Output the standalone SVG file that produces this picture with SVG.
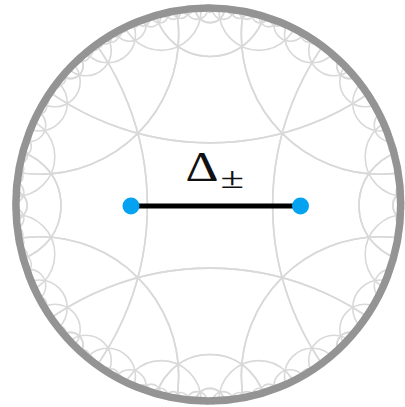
<svg xmlns="http://www.w3.org/2000/svg" xmlns:xlink="http://www.w3.org/1999/xlink" width="405" height="407" viewBox="0 0 405 407">
<style>
.t circle{fill:none;stroke:#d9d9d9;stroke-width:0.0082}
.lbl{font-family:"Liberation Serif","Times New Roman",serif;fill:#111}
.dot{fill:#03a3f2}
</style>
<defs>
<clipPath id="disk"><ellipse cx="208.3" cy="204.5" rx="196" ry="200"/></clipPath>
<g id="oct" class="t">
<circle cx="1.73205" cy="0" r="1.41421"/>
<circle cx="0.86603" cy="0.86603" r="0.70711"/>
<circle cx="1.03923" cy="0" r="0.28284"/>
<circle cx="0.98974" cy="0.24744" r="0.20203"/>
<circle cx="0.86603" cy="0.51962" r="0.14142"/>
<circle cx="0.78730" cy="0.62984" r="0.12857"/>
<circle cx="0.91697" cy="0.40754" r="0.08319"/>
<circle cx="1.00277" cy="0" r="0.07443"/>
<circle cx="0.70857" cy="0.70857" r="0.06428"/>
<circle cx="0.99926" cy="0.06662" r="0.05439"/>
<circle cx="0.95561" cy="0.29863" r="0.04877"/>
<circle cx="0.96791" cy="0.25471" r="0.04160"/>
<circle cx="0.98974" cy="0.14846" r="0.04041"/>
<circle cx="0.98306" cy="0.18725" r="0.03822"/>
<circle cx="0.86603" cy="0.50138" r="0.03722"/>
<circle cx="0.76532" cy="0.64448" r="0.03289"/>
<circle cx="0.94133" cy="0.33888" r="0.03074"/>
<circle cx="0.84835" cy="0.53022" r="0.02886"/>
<circle cx="0.78433" cy="0.62092" r="0.02668"/>
<circle cx="0.88177" cy="0.47238" r="0.02571"/>
<circle cx="0.99380" cy="0.11358" r="0.02318"/>
<circle cx="0.82343" cy="0.56789" r="0.02318"/>
<circle cx="0.81015" cy="0.58666" r="0.02281"/>
<circle cx="0.74611" cy="0.66617" r="0.02176"/>
<circle cx="1.00020" cy="0" r="0.01992"/>
<circle cx="0.97580" cy="0.21956" r="0.01992"/>
<circle cx="0.92534" cy="0.37963" r="0.01937"/>
<circle cx="0.89891" cy="0.43849" r="0.01790"/>
<circle cx="0.91820" cy="0.39649" r="0.01704"/>
</g>
</defs>
<rect width="405" height="407" fill="#fff"/>
<g id="tiling" clip-path="url(#disk)">
<g transform="translate(210,205.5) scale(197)">
<use xlink:href="#oct" href="#oct"/>
<use xlink:href="#oct" href="#oct" transform="matrix(-1,0,0,1,0,0)"/>
<use xlink:href="#oct" href="#oct" transform="matrix(1,0,0,-1,0,0)"/>
<use xlink:href="#oct" href="#oct" transform="matrix(-1,0,0,-1,0,0)"/>
<use xlink:href="#oct" href="#oct" transform="matrix(0,1,1,0,0,0)"/>
<use xlink:href="#oct" href="#oct" transform="matrix(0,-1,1,0,0,0)"/>
<use xlink:href="#oct" href="#oct" transform="matrix(0,1,-1,0,0,0)"/>
<use xlink:href="#oct" href="#oct" transform="matrix(0,-1,-1,0,0,0)"/>
</g>
</g>
<ellipse id="boundary" cx="208.3" cy="204.5" rx="192.4" ry="196.6" fill="none" stroke="#949494" stroke-width="7.5"/>
<g id="connectors">
<line x1="131" y1="206" x2="300.5" y2="206" stroke="#000" stroke-width="5"/>
</g>
<g id="node-left"><circle class="dot" cx="131" cy="206" r="8.5"/></g>
<g id="node-right"><circle class="dot" cx="300.5" cy="206" r="8.5"/></g>
<g id="label">
<text class="lbl" x="185.5" y="181" font-size="42" textLength="33" lengthAdjust="spacingAndGlyphs">Δ</text>
<text class="lbl" x="220.5" y="188" font-size="30" textLength="23.5" lengthAdjust="spacingAndGlyphs">±</text>
</g>
</svg>
